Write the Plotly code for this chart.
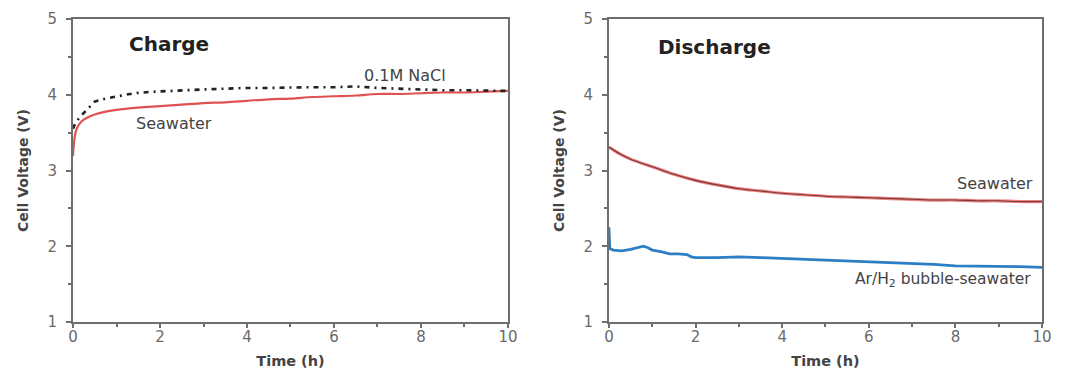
import plotly.graph_objects as go

# Charge panel
charge_sw_t = [0, 0.02, 0.05, 0.1, 0.2, 0.3, 0.5, 0.7, 1.0, 1.5, 2.0, 2.5, 3.0, 3.5, 4.0, 4.5, 5.0, 5.5, 6.0, 6.5, 7.0, 7.5, 8.0, 8.5, 9.0, 9.5, 10.0]
charge_sw_v = [3.19, 3.35, 3.48, 3.57, 3.65, 3.69, 3.74, 3.77, 3.80, 3.83, 3.85, 3.87, 3.89, 3.90, 3.92, 3.94, 3.95, 3.97, 3.98, 3.99, 4.01, 4.01, 4.02, 4.03, 4.03, 4.04, 4.05]

charge_nacl_t = [0, 0.05, 0.15, 0.28, 0.5, 0.75, 1.0, 1.4, 1.84, 2.5, 3.0, 3.5, 4.0, 4.5, 5.0, 5.5, 6.0, 6.5, 7.0, 7.5, 8.0, 8.5, 9.0, 9.5, 10.0]
charge_nacl_v = [3.55, 3.62, 3.70, 3.78, 3.91, 3.95, 3.98, 4.02, 4.04, 4.06, 4.07, 4.08, 4.09, 4.09, 4.10, 4.10, 4.10, 4.11, 4.09, 4.08, 4.07, 4.06, 4.06, 4.05, 4.05]

# Discharge panel
dis_sw_t = [0, 0.25, 0.5, 1.0, 1.5, 2.0, 2.5, 3.0, 3.5, 4.0, 4.5, 5.0, 5.5, 6.0, 6.5, 7.0, 7.5, 8.0, 8.5, 9.0, 9.5, 10.0]
dis_sw_v = [3.31, 3.22, 3.15, 3.05, 2.95, 2.87, 2.81, 2.76, 2.73, 2.70, 2.68, 2.66, 2.65, 2.64, 2.63, 2.62, 2.61, 2.61, 2.60, 2.60, 2.59, 2.59]

dis_h2_t = [0, 0.02, 0.1, 0.3, 0.5, 0.65, 0.8, 0.9, 1.0, 1.2, 1.4, 1.6, 1.8, 1.9, 2.0, 2.5, 3.0, 3.5, 4.0, 4.5, 5.0, 5.5, 6.0, 6.5, 7.0, 7.5, 8.0, 8.5, 9.0, 9.5, 10.0]
dis_h2_v = [2.25, 1.97, 1.95, 1.94, 1.96, 1.98, 2.00, 1.98, 1.95, 1.93, 1.90, 1.90, 1.89, 1.86, 1.85, 1.85, 1.86, 1.85, 1.84, 1.83, 1.81, 1.80, 1.79, 1.78, 1.77, 1.76, 1.74, 1.74, 1.73, 1.73, 1.72]

tick_vals_x = [0, 2, 4, 6, 8, 10]
tick_vals_y = [1, 2, 3, 4, 5]

RED = "#e05252"
PINK = "#ee8080"
DARKRED = "#7a3838"
BLUE = "#2c7fc4"
AX = "#6e6e6e"
FONT = "DejaVu Sans"

fig = go.Figure()
fig.add_trace(go.Scatter(x=charge_sw_t, y=charge_sw_v, mode="lines",
                         line=dict(color=RED, width=2.2, shape="spline"),
                         xaxis="x", yaxis="y", showlegend=False))
fig.add_trace(go.Scatter(x=charge_nacl_t, y=charge_nacl_v, mode="lines",
                         line=dict(color="#222222", width=2.6, dash="5px,5px,2px,5px"),
                         xaxis="x", yaxis="y", showlegend=False))
fig.add_trace(go.Scatter(x=dis_sw_t, y=dis_sw_v, mode="lines",
                         line=dict(color=PINK, width=3.2, shape="spline"),
                         xaxis="x2", yaxis="y2", showlegend=False))
fig.add_trace(go.Scatter(x=dis_sw_t, y=dis_sw_v, mode="lines",
                         line=dict(color=DARKRED, width=1.1, shape="spline"),
                         xaxis="x2", yaxis="y2", showlegend=False))
fig.add_trace(go.Scatter(x=dis_h2_t, y=dis_h2_v, mode="lines",
                         line=dict(color=BLUE, width=2.8),
                         xaxis="x2", yaxis="y2", showlegend=False))

def xax(domain, anchor):
    return dict(domain=domain, anchor=anchor, range=[0, 10], tickvals=tick_vals_x,
                showline=True, mirror=True, linecolor=AX, linewidth=2,
                ticks="outside", ticklen=4, tickcolor=AX, tickwidth=1.5,
                minor=dict(tickvals=[1, 3, 5, 7, 9], ticks="outside", ticklen=3, tickcolor=AX),
                showgrid=False, zeroline=False, automargin=False,
                ticklabelstandoff=-4,
                tickfont=dict(size=15, color="#6a6a6a", family=FONT),
                title=dict(text="<b>Time (h)</b>", font=dict(size=14.5, color="#444444", family=FONT), standoff=11))

def yax(anchor):
    return dict(domain=[0, 1], anchor=anchor, range=[1, 5], tickvals=tick_vals_y,
                showline=True, mirror=True, linecolor=AX, linewidth=2,
                ticks="outside", ticklen=5, tickcolor=AX, tickwidth=1.5,
                minor=dict(tickvals=[1.5, 2.5, 3.5, 4.5], ticks="outside", ticklen=3, tickcolor=AX),
                showgrid=False, zeroline=False, automargin=False,
                ticklabelstandoff=6,
                tickfont=dict(size=15, color="#6a6a6a", family=FONT),
                title=dict(text="<b>Cell Voltage (V)</b>", font=dict(size=14, color="#444444", family=FONT), standoff=16))

fig.update_layout(
    width=1065, height=370,
    margin=dict(l=65, r=31, t=11, b=56),
    paper_bgcolor="white", plot_bgcolor="white",
    font=dict(family=FONT),
    xaxis=xax([0, 0.4489], "y"),
    yaxis=yax("x"),
    xaxis2=xax([0.5531, 1], "y2"),
    yaxis2=yax("x2"),
    annotations=[
        dict(text="<b>Charge</b>", x=2.2, y=4.67, xref="x", yref="y", showarrow=False,
             font=dict(size=20, color="#222222", family=FONT)),
        dict(text="0.1M NaCl", x=7.63, y=4.26, xref="x", yref="y", showarrow=False,
             font=dict(size=16, color="#444444", family=FONT)),
        dict(text="Seawater", x=2.32, y=3.62, xref="x", yref="y", showarrow=False,
             font=dict(size=16, color="#444444", family=FONT)),
        dict(text="<b>Discharge</b>", x=2.44, y=4.63, xref="x2", yref="y2", showarrow=False,
             font=dict(size=20, color="#222222", family=FONT)),
        dict(text="Seawater", x=8.92, y=2.83, xref="x2", yref="y2", showarrow=False,
             font=dict(size=16, color="#444444", family=FONT)),
        dict(text="Ar/H<sub>2</sub> bubble-seawater", x=7.72, y=1.55, xref="x2", yref="y2", showarrow=False,
             font=dict(size=15.5, color="#444444", family=FONT)),
    ],
)

fig.write_html("out.html")
